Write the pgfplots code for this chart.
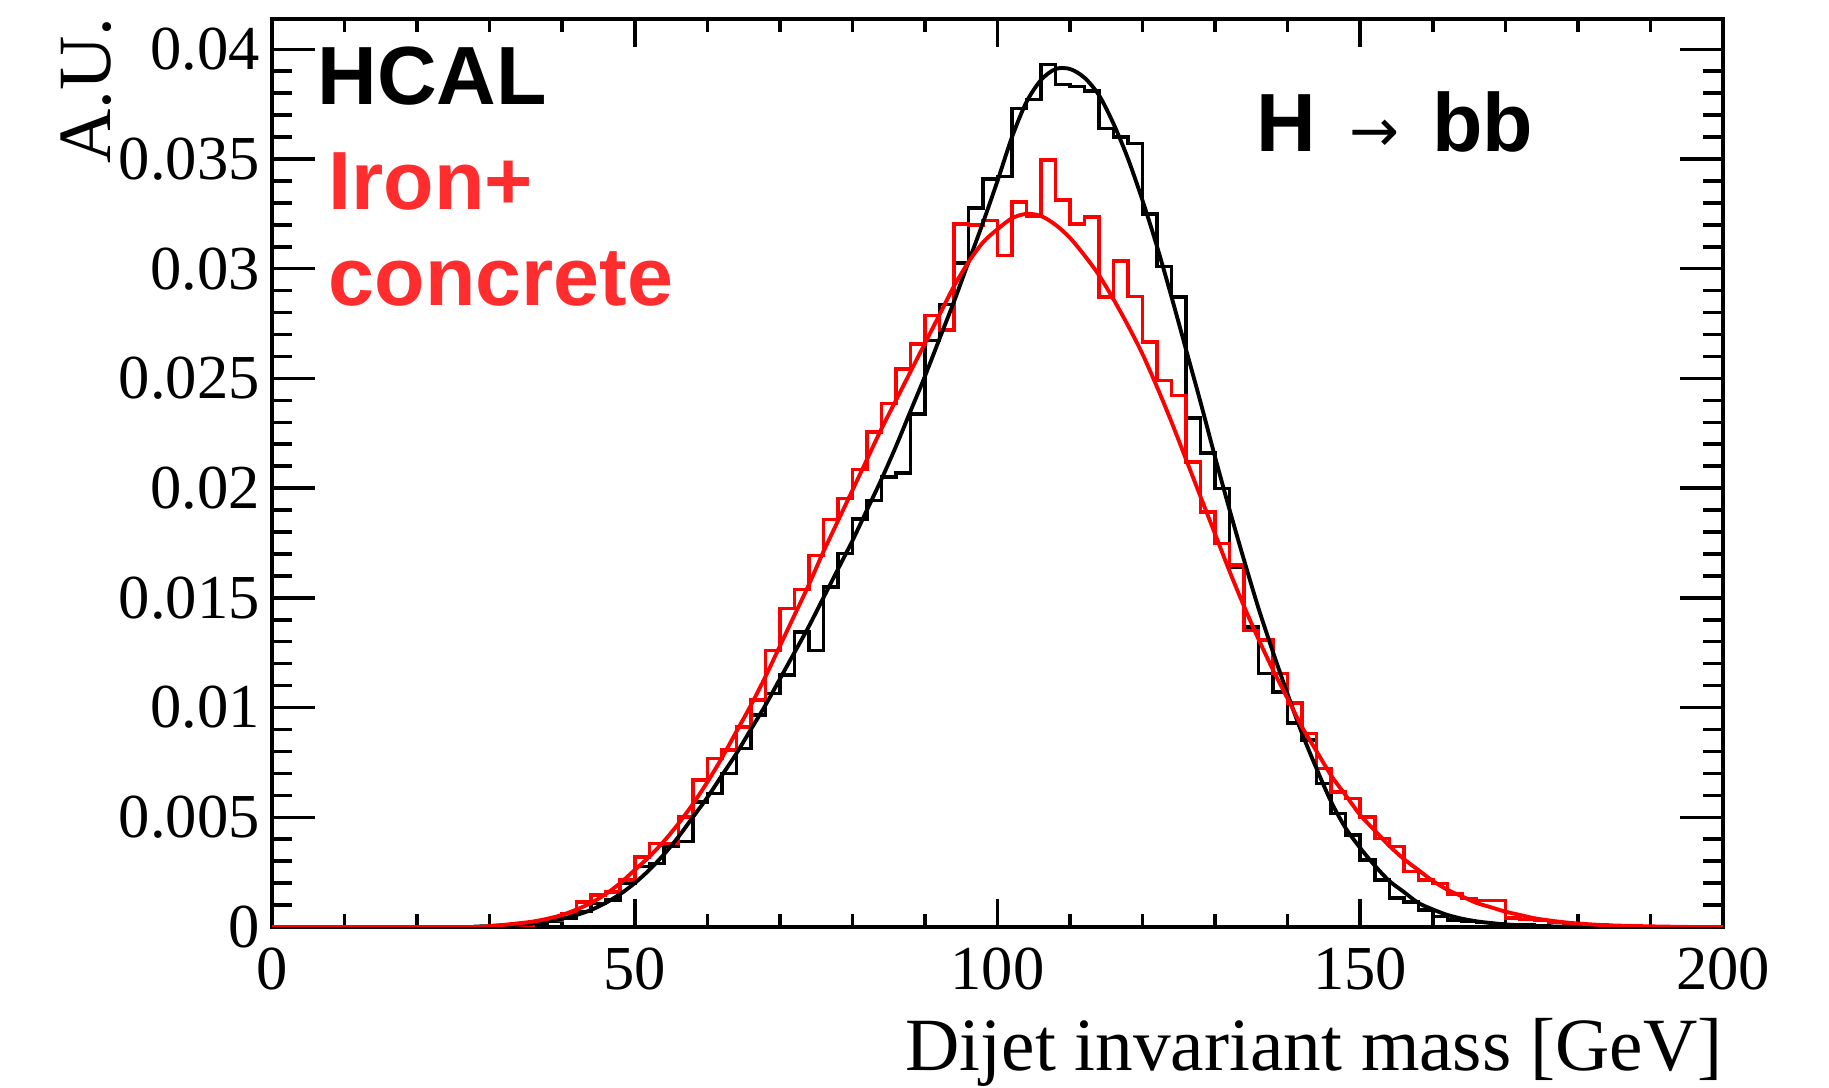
\documentclass[border=0pt]{standalone}
\usepackage{pgfplots}
\pgfplotsset{compat=1.18}
\usepackage{fontspec}
\setmainfont{Liberation Serif}
\newfontfamily\hsans{Liberation Sans}
\newfontfamily\dejavu{DejaVu Sans}
\definecolor{txtred}{RGB}{255,45,45}
\pgfplotsset{
  roottframe/.style={
    at={(0,0)}, anchor=south west, scale only axis,
    width=145.1mm, height=90.8mm,
    xmin=0, xmax=200, ymin=0, ymax=0.04138,
    tick align=inside,
    axis line style={line width=1pt},
    tick style={black, line width=1pt},
    /pgf/number format/assume math mode=true,
    xticklabel style={font=\fontsize{17.8}{20}\selectfont, yshift=-0.8mm},
    yticklabel style={font=\fontsize{17.8}{20}\selectfont},
  }
}
\begin{document}
\begin{tikzpicture}
\path[use as bounding box] (-27.2mm,-16.1mm) rectangle (155.7mm,92.7mm);
% y ticks (longer, as in the reference)
\begin{axis}[roottframe,
  xtick=\empty, minor x tick num=0,
  ytick={0,0.005,0.01,0.015,0.02,0.025,0.03,0.035,0.04},
  yticklabels={0,0.005,0.01,0.015,0.02,0.025,0.03,0.035,0.04},
  minor y tick num=4, scaled y ticks=false,
  major tick length=4.3mm, minor tick length=2.0mm,
]
\end{axis}
\begin{axis}[roottframe,
  xtick={0,50,100,150,200}, minor x tick num=4,
  ytick=\empty, minor y tick num=0,
  major tick length=2.8mm, minor tick length=1.3mm,
]
% black histogram (HCAL)
\addplot[const plot, black, line width=1pt] coordinates {
(0,0) (30,0) (32,0.00005) (34,0.0001) (36,0.00015) (38,0.00025)
(40,0.0004) (42,0.0007) (44,0.00108) (46,0.00123) (48,0.00199)
(50,0.00275) (52,0.0029) (54,0.00366) (56,0.00389) (58,0.0057)
(60,0.00609) (62,0.007) (64,0.00814) (66,0.00965) (68,0.01064)
(70,0.01148) (72,0.01345) (74,0.01261) (76,0.0155) (78,0.01702)
(80,0.0186) (82,0.01944) (84,0.0205) (86,0.0207) (88,0.02339)
(90,0.02673) (92,0.02837) (94,0.03025) (96,0.03277) (98,0.03409)
(100,0.0342) (102,0.0373) (104,0.0377) (106,0.0393) (108,0.0384)
(110,0.0383) (112,0.0381) (114,0.0364) (116,0.0360) (118,0.0357)
(120,0.0325) (122,0.0301) (124,0.0287) (126,0.0232) (128,0.0216)
(130,0.01998) (132,0.01641) (134,0.01367) (136,0.01155) (138,0.0107)
(140,0.0093) (142,0.00852) (144,0.00654) (146,0.00518) (148,0.00419)
(150,0.00305) (152,0.00214) (154,0.00131) (156,0.00115) (158,0.00077)
(160,0.00047) (162,0.00032) (164,0.00025) (166,0.0002) (168,0.00015)
(170,0.0001) (172,0.00008) (174,0.00005) (176,0.00003) (178,0.00002)
(180,0) (200,0)
};
% red histogram (Iron+concrete)
\addplot[const plot, red, line width=1pt] coordinates {
(0,0) (32,0) (34,0.0001) (36,0.00024) (38,0.0003)
(40,0.00062) (42,0.00115) (44,0.00146) (46,0.0016) (48,0.00214)
(50,0.0032) (52,0.00381) (54,0.0038) (56,0.00502) (58,0.00669)
(60,0.00768) (62,0.00806) (64,0.00912) (66,0.01034) (68,0.01261)
(70,0.01451) (72,0.01538) (74,0.01694) (76,0.01857) (78,0.01952)
(80,0.02085) (82,0.02255) (84,0.02385) (86,0.02544) (88,0.02658)
(90,0.02787) (92,0.0272) (94,0.03204) (96,0.0320) (98,0.0322)
(100,0.0306) (102,0.03303) (104,0.0324) (106,0.03496) (108,0.03313)
(110,0.03204) (112,0.03235) (114,0.0287) (116,0.03034) (118,0.02873)
(120,0.02665) (122,0.0249) (124,0.02423) (126,0.02119) (128,0.01891)
(130,0.01747) (132,0.0165) (134,0.01352) (136,0.01307) (138,0.01155)
(140,0.0102) (142,0.00882) (144,0.00723) (146,0.00616) (148,0.00586)
(150,0.00502) (152,0.00404) (154,0.00366) (156,0.00252) (158,0.00214)
(160,0.00199) (162,0.0015) (164,0.0013) (166,0.0012) (168,0.0012)
(170,0.0004) (172,0.00035) (174,0.0003) (176,0.0002) (178,0.00015)
(180,0.0001) (182,0.0001) (184,0.00005) (186,0) (200,0)
};
% black fit
\addplot[smooth, black, line width=1.1pt] coordinates {
(0,0) (26,0) (28,0.00002) (30,0.00004) (32,0.00007) (34,0.00011)
(36,0.00017) (38,0.00026) (40,0.00038) (42,0.00055) (44,0.00078)
(46,0.0011) (48,0.0015) (50,0.002) (52,0.0026) (54,0.0033)
(56,0.0041) (58,0.0050) (60,0.0059) (62,0.0069) (64,0.0079)
(66,0.0090) (68,0.0101) (70,0.0113) (72,0.0125) (74,0.0137)
(76,0.0150) (78,0.0163) (80,0.0176) (82,0.0190) (84,0.0204)
(86,0.0219) (88,0.0235) (90,0.0251) (92,0.0268) (94,0.0285)
(96,0.0303) (98,0.0321) (100,0.0340) (102,0.0360) (104,0.0376)
(106,0.0386) (108,0.0391) (110,0.0391) (112,0.0387) (114,0.0379)
(116,0.0366) (118,0.0350) (120,0.0331) (122,0.0310) (124,0.0287)
(126,0.0263) (128,0.0239) (130,0.0214) (132,0.0190) (134,0.0167)
(136,0.0145) (138,0.0125) (140,0.0106) (142,0.0088) (144,0.0072)
(146,0.0057) (148,0.0045) (150,0.0036) (152,0.0028) (154,0.0021)
(156,0.0016) (158,0.0011) (160,0.0008) (162,0.00055) (164,0.00038)
(166,0.00026) (168,0.00018) (170,0.00012) (172,0.00008) (176,0.00003)
(180,0.00001) (186,0) (200,0)
};
% red fit
\addplot[smooth, red, line width=1.1pt] coordinates {
(0,0) (28,0) (30,0.00005) (32,0.0001) (34,0.00017) (36,0.00025)
(38,0.00038) (40,0.00055) (42,0.0008) (44,0.0011) (46,0.0015)
(48,0.002) (50,0.0026) (52,0.0032) (54,0.0039) (56,0.0047)
(58,0.0056) (60,0.0066) (62,0.0077) (64,0.0089) (66,0.0101)
(68,0.0114) (70,0.0128) (72,0.0142) (74,0.0156) (76,0.0171)
(78,0.0185) (80,0.0199) (82,0.0213) (84,0.0227) (86,0.0240)
(88,0.0253) (90,0.0266) (92,0.0279) (94,0.0292) (96,0.0303)
(98,0.0312) (100,0.0318) (102,0.0323) (104,0.0325) (106,0.0324)
(108,0.0320) (110,0.0314) (112,0.0306) (114,0.0297) (116,0.0286)
(118,0.0274) (120,0.0261) (122,0.0246) (124,0.0230) (126,0.0213)
(128,0.0196) (130,0.0179) (132,0.0162) (134,0.0146) (136,0.0131)
(138,0.0117) (140,0.0104) (142,0.0091) (144,0.0080) (146,0.0069)
(148,0.0060) (150,0.0051) (152,0.0044) (154,0.0037) (156,0.0031)
(158,0.0026) (160,0.0021) (162,0.0017) (164,0.0014) (166,0.0011)
(168,0.0009) (170,0.0007) (172,0.00055) (174,0.0004) (176,0.0003)
(178,0.00022) (180,0.00016) (184,0.00008) (190,0.00003) (196,0) (200,0)
};
\end{axis}
% texts
\node[anchor=base west, inner sep=0pt, font=\hsans\bfseries\fontsize{23.5}{28}\selectfont] at (4.5mm,82.2mm) {HCAL};
\node[anchor=base west, inner sep=0pt, text=txtred, font=\hsans\bfseries\fontsize{23.5}{28}\selectfont] at (5.6mm,71.7mm) {Iron+};
\node[anchor=base west, inner sep=0pt, text=txtred, font=\hsans\bfseries\fontsize{23.5}{28}\selectfont] at (5.6mm,62.1mm) {concrete};
\node[anchor=base west, inner sep=0pt, font=\hsans\bfseries\fontsize{23.5}{28}\selectfont] at (98.4mm,77.5mm) {H {\dejavu\mdseries\fontsize{17}{20}\selectfont\,→\,} bb};
\node[anchor=base east, inner sep=0pt, rotate=90, font=\fontsize{21.4}{24}\selectfont] at (-16.1mm,91mm) {A.U.};
\node[anchor=base east, inner sep=0pt, font=\fontsize{21.4}{24}\selectfont] at (145.1mm,-14.4mm) {Dijet invariant mass [GeV]};
\end{tikzpicture}
\end{document}
